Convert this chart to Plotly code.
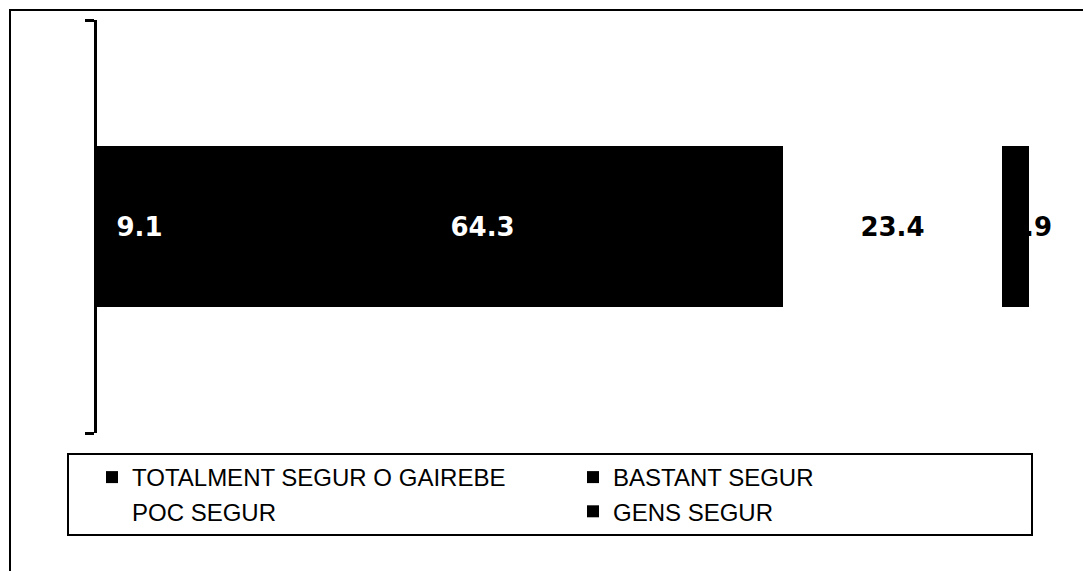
import plotly.graph_objects as go

categories = ["Total"]
series_names = ["TOTALMENT SEGUR O GAIREBE", "BASTANT SEGUR", "POC SEGUR", "GENS SEGUR"]
values = [9.1, 64.3, 23.4, 2.9]
fill_colors = ["#000000", "#000000", "#ffffff", "#000000"]
label_colors = ["#ffffff", "#ffffff", "#000000", "#000000"]

W, H = 1083, 571
ml, mr, mt, mb = 97, 54, 20, 138

fig = go.Figure()
for i, (name, v) in enumerate(zip(series_names, values)):
    show_inside = i < 3
    fig.add_trace(go.Bar(
        y=categories, x=[v], name=name, orientation="h",
        marker=dict(color=fill_colors[i], line=dict(width=0)),
        text=[f"{v:.1f}"] if show_inside else None,
        textposition="inside" if show_inside else "none",
        insidetextanchor="middle",
        textangle=0,
        textfont=dict(family="DejaVu Sans", size=26, color=label_colors[i], weight="bold"),
        hoverinfo="skip",
    ))

# last label: drawn from the start of the last segment, partly hidden by the bar
start_last = sum(values[:-1])
fig.add_annotation(
    x=start_last, y=categories[0], xref="x", yref="y", xshift=2,
    text=f"{values[-1]:.1f}", showarrow=False, xanchor="left", yanchor="middle",
    font=dict(family="DejaVu Sans", size=26, color=label_colors[-1], weight="bold"),
)

pw = W - ml - mr
ph = H - mt - mb

# outer frame (partly cropped)
fig.add_shape(type="rect", xref="paper", yref="paper",
              x0=(10 - ml) / pw, x1=1.3, y0=-0.6, y1=1 + (mt - 10) / ph,
              line=dict(color="#000000", width=2), fillcolor="rgba(0,0,0,0)", layer="below")

fig.update_layout(
    width=W, height=H,
    margin=dict(l=ml, r=mr, t=mt, b=mb, autoexpand=False),
    paper_bgcolor="white", plot_bgcolor="white",
    barmode="stack", bargap=0.608,
    showlegend=True,
    legend=dict(
        orientation="h", traceorder="normal",
        x=(67 - ml) / pw, xanchor="left",
        y=-(453 - (H - mb)) / ph, yanchor="top",
        indentation=23,
        entrywidth=413, entrywidthmode="pixels",
        bordercolor="#000000", borderwidth=2, bgcolor="white",
        font=dict(family="Liberation Sans", size=24, color="#000000"),
        itemclick=False,
    ),
    xaxis=dict(range=[0, sum(values)], showgrid=False, zeroline=False, showline=False,
               showticklabels=False, ticks=""),
    yaxis=dict(showgrid=False, zeroline=False, showline=True, linecolor="#000000",
               linewidth=3, ticks="outside", tickson="boundaries", ticklen=9,
               tickwidth=3, tickcolor="#000000", showticklabels=False,
               range=[-0.5, 0.5]),
)

fig.write_html("out.html", config={"displayModeBar": False},
               post_script="document.body.style.margin='0';")
